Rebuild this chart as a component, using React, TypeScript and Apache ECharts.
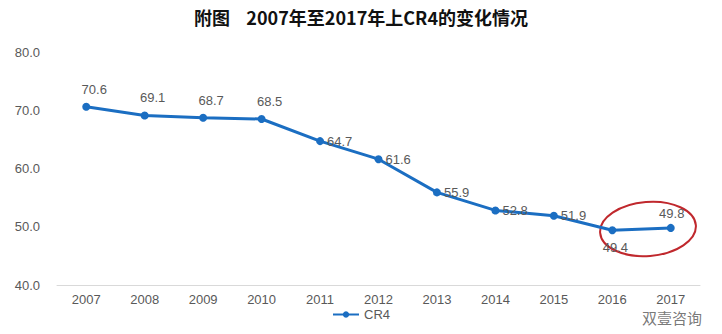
import React, { useEffect, useRef } from "react";
import * as echarts from "echarts";

const years = ["2007", "2008", "2009", "2010", "2011", "2012", "2013", "2014", "2015", "2016", "2017"];
const cr4 = [70.6, 69.1, 68.7, 68.5, 64.7, 61.6, 55.9, 52.8, 51.9, 49.4, 49.8];
const yTicks = [40, 50, 60, 70, 80];

const FONT = "'Liberation Sans', 'Noto Sans CJK SC', sans-serif";

export default function App() {
  const ref = useRef<HTMLDivElement>(null);
  useEffect(() => {
    if (!ref.current) return;
    const chart = echarts.init(ref.current, undefined, { renderer: "svg" });
    const last = cr4.length - 1;
    const labelFor = (i: number) => {
      if (i >= 4 && i <= 8) return { position: "right", distance: 3, offset: [0, 0] };
      if (i === last - 1) return { position: "bottom", distance: 7, offset: [3, 0] };
      if (i === last) return { position: "top", distance: 4, offset: [1, 0] };
      return { position: "top", distance: 7, offset: [8, 0] };
    };
    chart.setOption({
      animation: false,
      backgroundColor: "#ffffff",
      title: {
        text: "附图    2007年至2017年上CR4的变化情况",
        left: "center",
        top: 3,
        textStyle: { fontFamily: "'Noto Sans CJK SC', sans-serif", fontSize: 18, fontWeight: "bold", color: "#111" },
      },
      legend: {
        bottom: 8,
        left: "center",
        itemWidth: 26,
        itemHeight: 8,
        textStyle: { fontFamily: FONT, fontSize: 13, color: "#595959" },
        data: ["CR4"],
      },
      grid: { left: 57, right: 22, top: 52, bottom: 49 },
      xAxis: {
        type: "category",
        data: years,
        boundaryGap: true,
        axisLine: { lineStyle: { color: "#d9d9d9" } },
        axisTick: { lineStyle: { color: "#d9d9d9" } },
        axisLabel: { fontFamily: FONT, fontSize: 13, color: "#595959", margin: 8 },
      },
      yAxis: {
        type: "value",
        min: yTicks[0],
        max: yTicks[yTicks.length - 1],
        interval: 10,
        axisLine: { show: false },
        axisTick: { show: false },
        splitLine: { show: false },
        axisLabel: { fontFamily: FONT, fontSize: 13, color: "#595959", margin: 17, formatter: (v: number) => v.toFixed(1) },
      },
      series: [
        {
          name: "CR4",
          type: "line",
          data: cr4.map((v, i) => ({ value: v, label: labelFor(i) })),
          symbol: "circle",
          symbolSize: 8,
          itemStyle: { color: "#1b6ec2" },
          lineStyle: { color: "#1b6ec2", width: 3 },
          label: {
            show: true,
            fontFamily: FONT,
            fontSize: 13,
            color: "#595959",
            formatter: (p: any) => Number(p.value).toFixed(1),
          },
        },
      ],
      graphic: [
        {
          type: "ellipse",
          x: 648,
          y: 229,
          rotation: 0.08,
          shape: { cx: 0, cy: 0, rx: 48, ry: 27 },
          style: { fill: "none", stroke: "#c0282d", lineWidth: 2 },
        },
        {
          type: "text",
          x: 642,
          y: 310,
          style: { text: "双壹咨询", fontFamily: "'Noto Sans CJK SC', sans-serif", fontSize: 15, fill: "#555", opacity: 0.8 },
        },
      ],
    });
    return () => chart.dispose();
  }, []);
  return <div ref={ref} style={{ position: "fixed", left: 0, top: 0, width: 722, height: 334 }} />;
}
